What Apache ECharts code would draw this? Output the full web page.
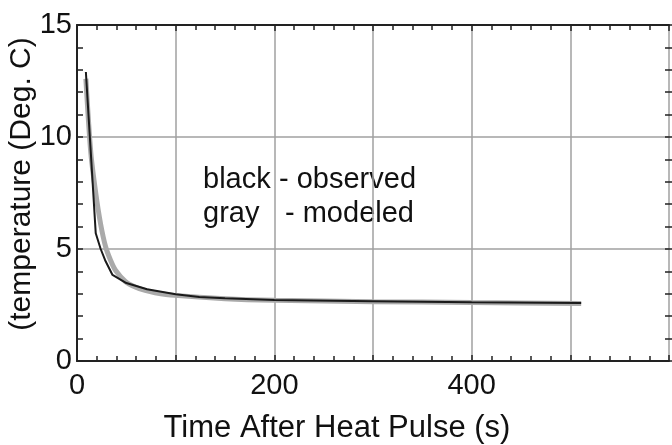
<!DOCTYPE html>
<html>
<head>
<meta charset="utf-8">
<script src="https://cdn.jsdelivr.net/npm/echarts@6/dist/echarts.min.js"></script>
<style>
html,body{margin:0;padding:0;background:#fff;}
#chart{width:672px;height:445px;}
</style>
</head>
<body>
<div id="chart"></div>
<script>
// Observed (black) series
const obsTime = [9, 19, 24, 28.5, 36, 50, 71, 100, 124, 150, 200, 300, 400, 511];
const obsTemp = [12.9, 5.7, 5.0, 4.5, 3.84, 3.48, 3.2, 2.98, 2.86, 2.8, 2.72, 2.67, 2.62, 2.59];
// Modeled (gray) series
const modTime = [9, 14, 19, 24, 29, 34, 39, 49, 59, 69, 79, 99, 150, 200, 300, 400, 511];
const modTemp = [12.6, 9.3, 7.5, 6.1, 5.1, 4.5, 4.05, 3.55, 3.3, 3.15, 3.05, 2.93, 2.78, 2.71, 2.65, 2.61, 2.57];
// Axis settings
const xTickLabels = [0, 200, 400];
const yTickLabels = [0, 5, 10, 15];
const xTitle = 'Time After Heat Pulse (s)';
const yTitle = '(temperature (Deg. C)';
const noteLines = [['black', '- observed'], ['gray', '- modeled']];

const FONT = '"Liberation Sans", Arial, sans-serif';
const AXC = '#222';
const GRIDC = '#a0a0a0';

const chart = echarts.init(document.getElementById('chart'), null, {renderer: 'canvas'});

function baseX(pos, showLabels) {
  return {
    type: 'value', position: pos, min: 0, max: 600, interval: 100,
    axisLine: {show: true, onZero: false, lineStyle: {color: AXC, width: 2}},
    axisTick: {show: true, inside: true, length: 6, lineStyle: {color: AXC, width: 1.5}},
    minorTick: {show: true, splitNumber: 5, length: 5, lineStyle: {color: AXC, width: 1.5}},
    splitLine: {show: showLabels, lineStyle: {color: GRIDC, width: 1.5}},
    axisLabel: showLabels ? {
      show: true, margin: 10, color: '#111', fontSize: 29, fontFamily: FONT,
      formatter: v => xTickLabels.indexOf(v) >= 0 ? String(v) : ''
    } : {show: false}
  };
}
function baseY(pos, showLabels) {
  const tl = showLabels ? 6 : 8;
  return {
    type: 'value', position: pos, min: 0, max: 15, interval: 5,
    offset: showLabels ? 0 : 4,
    axisLine: {show: true, onZero: false, lineStyle: {color: AXC, width: 2}},
    axisTick: {show: true, inside: true, length: tl, lineStyle: {color: AXC, width: 1.5}},
    minorTick: {show: true, splitNumber: 5, length: tl, lineStyle: {color: AXC, width: 1.5}},
    splitLine: {show: showLabels, lineStyle: {color: GRIDC, width: 1.5}},
    axisLabel: showLabels ? {
      show: true, margin: 5, color: '#111', fontSize: 29, fontFamily: FONT,
      formatter: v => yTickLabels.indexOf(v) >= 0 ? String(v) : ''
    } : {show: false}
  };
}

const graphics = [
  {type: 'text', x: 337, y: 428, style: {text: xTitle, font: '31px ' + FONT, fill: '#111', textAlign: 'center', textVerticalAlign: 'middle'}},
  {type: 'text', x: 22, y: 184, rotation: Math.PI / 2, style: {text: yTitle, font: '30px ' + FONT, fill: '#111', textAlign: 'center', textVerticalAlign: 'middle'}}
];
const noteX = [203, 279, 203, 285];
const noteY = [180, 180, 214, 214];
let k = 0;
noteLines.forEach(line => {
  line.forEach(t => {
    graphics.push({type: 'text', x: noteX[k], y: noteY[k], style: {text: t, font: '29px ' + FONT, fill: '#111', textAlign: 'left', textVerticalAlign: 'middle'}});
    k++;
  });
});

chart.setOption({
  animation: false,
  backgroundColor: '#fff',
  grid: {left: 77, top: 25, width: 597, height: 336, containLabel: false},
  xAxis: [baseX('bottom', true), baseX('top', false)],
  yAxis: [baseY('left', true), baseY('right', false)],
  series: [
    {type: 'line', name: 'modeled', xAxisIndex: 0, yAxisIndex: 0, smooth: 0.3, symbol: 'none',
     lineStyle: {color: '#aaaaaa', width: 5}, data: modTime.map((t, i) => [t, modTemp[i]])},
    {type: 'line', name: 'observed', xAxisIndex: 0, yAxisIndex: 0, smooth: false, symbol: 'none',
     lineStyle: {color: '#1a1a1a', width: 2}, data: obsTime.map((t, i) => [t, obsTemp[i]])}
  ],
  graphic: graphics
});
</script>
</body>
</html>
